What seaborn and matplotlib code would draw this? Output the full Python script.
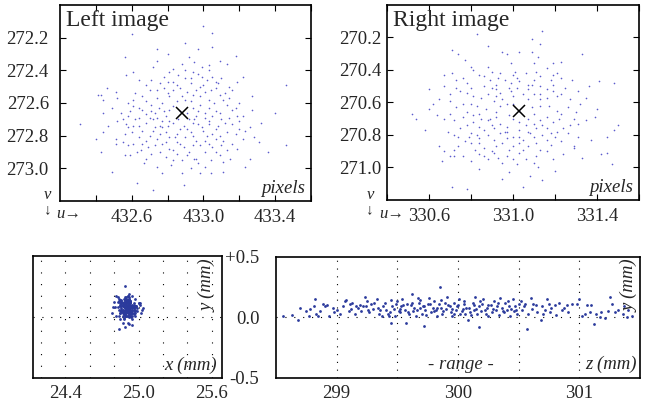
import matplotlib
matplotlib.use('Agg')
import matplotlib.pyplot as plt
import pandas as pd
import seaborn as sns

# Image-plane feature positions (u, v) in pixels
left_pts = [
    (433.00, 272.13), (433.05, 272.17), (432.60, 272.18), (432.90, 272.23), (433.05, 272.26),
    (432.97, 272.27), (432.74, 272.27), (432.56, 272.32), (433.18, 272.31), (432.92, 272.32),
    (432.80, 272.30), (432.74, 272.34), (432.95, 272.35), (433.09, 272.34), (433.13, 272.36),
    (433.03, 272.37), (432.88, 272.36), (432.99, 272.38), (432.83, 272.39), (432.72, 272.38),
    (433.03, 272.40), (432.81, 272.41), (432.90, 272.40), (432.94, 272.41), (432.61, 272.41),
    (433.22, 272.44), (432.57, 272.43), (432.71, 272.46), (432.90, 272.45), (432.99, 272.44),
    (433.02, 272.46), (433.05, 272.44), (432.83, 272.47), (432.76, 272.48), (432.64, 272.46),
    (432.78, 272.51), (432.83, 272.52), (432.87, 272.51), (432.93, 272.48), (432.98, 272.50),
    (433.08, 272.48), (433.14, 272.50), (433.19, 272.47), (433.46, 272.49), (432.46, 272.51),
    (432.43, 272.55), (432.41, 272.55), (432.51, 272.53), (432.44, 272.58), (432.52, 272.57),
    (432.61, 272.58), (432.66, 272.56), (432.74, 272.57), (432.81, 272.56), (432.88, 272.56),
    (432.94, 272.55), (433.01, 272.53), (433.09, 272.55), (433.14, 272.57), (433.27, 272.56),
    (432.61, 272.62), (432.59, 272.65), (432.64, 272.63), (432.71, 272.61), (432.75, 272.63),
    (432.78, 272.65), (432.83, 272.62), (432.94, 272.63), (432.98, 272.61), (433.03, 272.63),
    (433.07, 272.65), (433.13, 272.61), (433.16, 272.64), (433.27, 272.64), (433.40, 272.66),
    (432.44, 272.66), (432.58, 272.68), (432.64, 272.69), (432.68, 272.67), (432.74, 272.69),
    (432.79, 272.68), (432.96, 272.68), (433.01, 272.69), (433.05, 272.68), (433.10, 272.70),
    (433.14, 272.69), (433.22, 272.68), (432.52, 272.71), (432.57, 272.73), (432.64, 272.74),
    (432.68, 272.72), (432.76, 272.74), (432.83, 272.72), (432.89, 272.74), (432.94, 272.72),
    (432.99, 272.75), (433.03, 272.73), (433.08, 272.74), (433.16, 272.73), (433.20, 272.76),
    (433.26, 272.75), (432.31, 272.73), (432.58, 272.75), (432.66, 272.77), (432.72, 272.77),
    (432.79, 272.78), (432.87, 272.76), (432.93, 272.78), (433.00, 272.77), (433.05, 272.79),
    (433.13, 272.78), (433.23, 272.77), (433.28, 272.81), (432.51, 272.82), (432.55, 272.84),
    (432.64, 272.81), (432.68, 272.83), (432.74, 272.82), (432.77, 272.85), (432.85, 272.84),
    (432.90, 272.81), (432.96, 272.83), (433.01, 272.83), (433.07, 272.82), (433.16, 272.85),
    (432.51, 272.85), (432.44, 272.78), (432.61, 272.85), (432.69, 272.87), (432.81, 272.88),
    (432.89, 272.87), (432.98, 272.86), (433.05, 272.87), (433.13, 272.89), (433.46, 272.86),
    (432.43, 272.90), (432.63, 272.90), (432.76, 272.90), (432.85, 272.91), (432.92, 272.90),
    (433.01, 272.90), (433.09, 272.92), (433.26, 272.94), (433.36, 272.90), (432.56, 272.92),
    (432.59, 272.92), (432.68, 272.94), (432.79, 272.93), (432.88, 272.95), (432.96, 272.94),
    (433.04, 272.95), (433.11, 272.96), (433.23, 272.99), (432.74, 272.99), (432.77, 273.03),
    (432.88, 273.03), (432.98, 273.03), (433.04, 273.03), (433.11, 273.02), (432.49, 273.02),
    (432.63, 273.09), (432.72, 273.13), (432.89, 273.10), (432.95, 272.94), (432.83, 272.95),
    (432.72, 272.70), (432.90, 272.58), (432.87, 272.65), (432.81, 272.71), (432.98, 272.56),
    (433.03, 272.58), (432.74, 272.52), (432.68, 272.49), (432.96, 272.52), (433.07, 272.51),
    (433.16, 272.52), (432.85, 272.79), (432.92, 272.70), (432.77, 272.75), (433.01, 272.66),
    (432.71, 272.65), (433.20, 272.71), (432.60, 272.78), (433.11, 272.83), (432.81, 272.81),
    (432.78, 272.44), (432.86, 272.43), (432.93, 272.45), (433.00, 272.49), (433.10, 272.45),
    (432.70, 272.52), (432.80, 272.54), (432.91, 272.53), (433.04, 272.52), (433.12, 272.54),
    (432.58, 272.60), (432.68, 272.59), (432.77, 272.60), (432.85, 272.59), (432.93, 272.59),
    (433.06, 272.60), (433.11, 272.58), (433.20, 272.60), (432.49, 272.63), (432.54, 272.66),
    (432.66, 272.64), (432.73, 272.66), (432.81, 272.64), (432.91, 272.66), (432.97, 272.65),
    (433.09, 272.66), (433.19, 272.68), (432.62, 272.70), (432.70, 272.69), (432.77, 272.71),
    (432.86, 272.70), (432.95, 272.70), (433.03, 272.71), (433.12, 272.72), (432.47, 272.74),
    (432.61, 272.74), (432.73, 272.75), (432.80, 272.74), (432.91, 272.76), (432.97, 272.73),
    (433.07, 272.76), (433.18, 272.79), (432.56, 272.79), (432.70, 272.80), (432.76, 272.79),
    (432.84, 272.81), (432.94, 272.80), (433.02, 272.80), (433.09, 272.80), (433.22, 272.82),
    (432.58, 272.86), (432.66, 272.85), (432.73, 272.86), (432.79, 272.84), (432.87, 272.85),
    (432.94, 272.86), (433.03, 272.85), (433.10, 272.86), (433.19, 272.88), (432.65, 272.89),
    (432.83, 272.89), (432.91, 272.92), (433.07, 272.90), (432.71, 272.91), (432.97, 272.97),
    (432.82, 272.98), (433.01, 272.99), (432.67, 272.97), (433.15, 272.94), (432.93, 273.00),
    (432.80, 272.47), (432.97, 272.42), (432.85, 272.49), (433.07, 272.47), (432.62, 272.54),
    (433.18, 272.63), (432.55, 272.70), (433.32, 272.72), (432.40, 272.82), (433.31, 272.84),
]
left_mean = (432.88, 272.66)

right_pts = [
    (331.14, 270.16), (330.83, 270.18), (331.09, 270.21), (330.88, 270.25), (331.13, 270.24),
    (330.71, 270.28), (330.74, 270.30), (330.95, 270.29), (331.03, 270.29), (330.97, 270.30),
    (331.09, 270.29), (331.12, 270.32), (331.33, 270.30), (330.77, 270.34), (330.80, 270.38),
    (330.88, 270.38), (330.99, 270.36), (331.10, 270.36), (331.19, 270.36), (331.23, 270.35),
    (330.90, 270.41), (330.94, 270.42), (331.01, 270.41), (331.06, 270.42), (331.11, 270.41),
    (331.16, 270.39), (331.19, 270.43), (330.81, 270.40), (330.67, 270.43), (330.71, 270.42),
    (330.73, 270.46), (330.76, 270.45), (330.84, 270.43), (330.89, 270.46), (330.96, 270.46),
    (331.03, 270.47), (331.10, 270.46), (331.18, 270.46), (331.23, 270.45), (331.28, 270.46),
    (331.41, 270.47), (331.48, 270.48), (330.67, 270.50), (330.73, 270.51), (330.80, 270.51),
    (330.86, 270.50), (330.92, 270.49), (330.98, 270.51), (331.02, 270.51), (331.07, 270.52),
    (331.13, 270.50), (331.19, 270.53), (331.25, 270.51), (331.31, 270.53), (330.75, 270.53),
    (330.81, 270.56), (330.88, 270.55), (330.94, 270.54), (331.00, 270.56), (331.10, 270.55),
    (331.16, 270.57), (331.21, 270.56), (331.27, 270.58), (330.65, 270.58), (330.70, 270.59),
    (330.76, 270.61), (330.83, 270.62), (330.91, 270.59), (330.97, 270.61), (331.07, 270.58),
    (331.13, 270.62), (331.26, 270.63), (331.32, 270.61), (331.40, 270.64), (330.62, 270.61),
    (330.52, 270.67), (330.54, 270.70), (330.64, 270.68), (330.70, 270.67), (330.78, 270.66),
    (330.84, 270.67), (330.92, 270.66), (330.98, 270.68), (331.10, 270.67), (331.16, 270.69),
    (331.23, 270.67), (331.29, 270.70), (331.35, 270.71), (330.72, 270.71), (330.81, 270.72),
    (330.88, 270.71), (330.94, 270.73), (331.03, 270.72), (331.10, 270.73), (331.19, 270.72),
    (331.24, 270.76), (331.31, 270.73), (331.50, 270.74), (331.48, 270.77), (330.69, 270.78),
    (330.75, 270.76), (330.80, 270.79), (330.86, 270.77), (330.91, 270.76), (330.97, 270.78),
    (331.03, 270.77), (331.11, 270.76), (331.18, 270.79), (331.26, 270.79), (331.31, 270.81),
    (330.74, 270.81), (330.83, 270.80), (330.91, 270.83), (330.97, 270.82), (331.05, 270.83),
    (331.10, 270.81), (331.16, 270.83), (331.23, 270.84), (331.45, 270.81), (330.74, 270.87),
    (330.65, 270.87), (330.72, 270.89), (330.80, 270.85), (330.86, 270.88), (330.92, 270.87),
    (331.00, 270.87), (331.07, 270.87), (331.13, 270.89), (331.29, 270.87), (330.70, 270.93),
    (330.72, 270.93), (330.76, 270.93), (330.84, 270.92), (330.91, 270.91), (330.97, 270.93),
    (331.03, 270.91), (331.11, 270.93), (331.19, 270.95), (331.42, 270.92), (331.45, 270.91),
    (330.88, 270.95), (330.95, 270.97), (331.02, 270.98), (331.10, 270.97), (331.00, 270.95),
    (331.29, 270.88), (331.47, 270.98), (331.08, 271.05), (331.14, 271.08), (330.95, 271.07),
    (330.71, 271.12), (330.78, 271.13), (331.05, 271.12), (330.86, 270.93), (331.14, 270.74),
    (331.03, 270.65), (330.89, 270.70), (330.81, 270.68), (330.95, 270.58), (331.02, 270.45),
    (331.07, 270.49), (331.19, 270.49), (330.84, 270.82), (331.07, 270.78), (330.96, 270.78),
    (331.03, 270.81), (330.92, 270.52), (331.13, 270.58),
    (330.86, 270.44), (330.93, 270.45), (331.00, 270.43), (331.13, 270.44), (331.21, 270.42),
    (330.78, 270.48), (330.90, 270.51), (330.99, 270.48), (331.09, 270.49), (331.16, 270.52),
    (330.70, 270.55), (330.78, 270.54), (330.85, 270.57), (330.92, 270.56), (330.99, 270.53),
    (331.05, 270.55), (331.13, 270.55), (331.23, 270.55), (331.35, 270.57), (330.60, 270.64),
    (330.73, 270.63), (330.80, 270.61), (330.87, 270.64), (330.94, 270.62), (331.00, 270.61),
    (331.09, 270.63), (331.17, 270.62), (331.21, 270.65), (331.30, 270.66), (330.67, 270.70),
    (330.76, 270.69), (330.85, 270.70), (330.92, 270.69), (331.00, 270.70), (331.07, 270.70),
    (331.13, 270.71), (331.22, 270.70), (331.27, 270.74), (330.78, 270.74), (330.84, 270.75),
    (330.90, 270.74), (330.97, 270.75), (331.06, 270.74), (331.16, 270.76), (331.21, 270.78),
    (330.72, 270.80), (330.79, 270.81), (330.88, 270.80), (330.94, 270.79), (331.00, 270.81),
    (331.08, 270.79), (331.14, 270.80), (331.20, 270.81), (331.37, 270.83), (330.77, 270.84),
    (330.84, 270.85), (330.95, 270.85), (331.03, 270.85), (331.11, 270.85), (331.18, 270.86),
    (330.82, 270.89), (330.90, 270.90), (330.98, 270.89), (331.05, 270.89), (331.16, 270.90),
    (330.67, 270.90), (330.93, 270.94), (331.06, 270.95), (331.24, 270.92), (330.80, 270.96),
    (330.60, 270.52), (330.58, 270.77), (331.39, 270.69), (331.36, 270.50), (330.66, 270.96),
    (331.33, 270.94), (331.12, 271.00), (330.84, 271.01), (330.98, 271.03), (331.20, 271.02),
]
right_mean = (331.03, 270.65)

# Reconstructed points (z, y) in mm
zy_pts = [
    (298.56, 0.01), (298.63, 0.02), (298.68, -0.02), (298.70, 0.08), (298.75, 0.05),
    (298.77, 0.01), (298.78, 0.07), (298.81, 0.09), (298.82, 0.15), (298.83, 0.03),
    (298.85, 0.01), (298.86, 0.05), (298.89, 0.11), (298.90, 0.09), (298.92, 0.10),
    (298.94, 0.01), (298.97, 0.08), (298.98, 0.04), (299.00, 0.06), (299.03, 0.03),
    (299.05, 0.09), (299.07, 0.13), (299.08, 0.14), (299.11, 0.11), (299.12, 0.07),
    (299.13, 0.12), (299.15, 0.03), (299.16, 0.09), (299.18, 0.08), (299.19, 0.10),
    (299.20, 0.05), (299.22, 0.09), (299.23, 0.17), (299.24, 0.09), (299.26, 0.06),
    (299.27, 0.04), (299.28, 0.11), (299.30, 0.07), (299.31, 0.12), (299.33, 0.15),
    (299.34, 0.08), (299.35, 0.03), (299.37, 0.01), (299.38, 0.09), (299.41, 0.06),
    (299.42, 0.03), (299.43, 0.01), (299.45, 0.14), (299.45, -0.05), (299.46, 0.09),
    (299.48, 0.01), (299.49, 0.11), (299.50, 0.13), (299.51, 0.05), (299.52, 0.04),
    (299.53, 0.09), (299.54, 0.15), (299.56, 0.06), (299.57, -0.05), (299.58, 0.11),
    (299.60, 0.03), (299.61, 0.10), (299.62, 0.19), (299.63, 0.05), (299.64, 0.08),
    (299.65, 0.01), (299.67, 0.16), (299.68, 0.12), (299.69, 0.08), (299.70, 0.03),
    (299.71, 0.09), (299.72, -0.07), (299.73, 0.06), (299.75, 0.11), (299.76, 0.16),
    (299.78, 0.04), (299.79, 0.08), (299.80, 0.13), (299.82, 0.06), (299.83, 0.01),
    (299.84, 0.11), (299.85, 0.25), (299.86, 0.08), (299.87, 0.03), (299.89, 0.12),
    (299.90, 0.07), (299.91, 0.17), (299.93, 0.09), (299.94, 0.04), (299.95, 0.01),
    (299.97, 0.12), (299.98, 0.06), (299.99, 0.09), (300.01, 0.15), (300.02, 0.03),
    (300.04, 0.07), (300.05, 0.11), (300.06, 0.03), (300.08, -0.02), (300.09, 0.08),
    (300.10, 0.04), (300.12, 0.12), (300.13, 0.06), (300.14, 0.17), (300.16, 0.03),
    (300.17, -0.08), (300.17, 0.09), (300.19, 0.05), (300.20, 0.11), (300.21, 0.15),
    (300.23, 0.03), (300.24, 0.08), (300.25, 0.01), (300.27, 0.10), (300.28, 0.04),
    (300.30, 0.13), (300.31, 0.06), (300.32, 0.09), (300.34, 0.02), (300.35, 0.16),
    (300.36, 0.08), (300.38, 0.04), (300.39, 0.12), (300.40, 0.06), (300.42, 0.09),
    (300.43, 0.01), (300.45, 0.15), (300.46, 0.05), (300.47, 0.09), (300.49, 0.03),
    (300.50, 0.11), (300.53, 0.06), (300.54, 0.09), (300.55, 0.11), (300.57, -0.10),
    (300.58, 0.03), (300.60, 0.16), (300.61, 0.07), (300.64, 0.10), (300.65, 0.04),
    (300.68, -0.02), (300.69, 0.09), (300.70, 0.03), (300.72, 0.06), (300.73, 0.15),
    (300.75, 0.11), (300.76, 0.04), (300.77, 0.08), (300.80, 0.10), (300.81, 0.02),
    (300.83, 0.12), (300.86, 0.06), (300.87, 0.08), (300.90, 0.10), (300.91, 0.04),
    (300.94, 0.11), (300.98, 0.11), (301.00, 0.15), (301.02, 0.01), (301.05, 0.03),
    (301.06, 0.10), (301.09, 0.04), (301.10, 0.10), (301.12, -0.06), (301.14, 0.03),
    (301.17, 0.00), (301.18, 0.04), (301.21, -0.01), (301.24, 0.05), (301.25, 0.17),
    (301.27, 0.11), (301.29, 0.04), (301.32, 0.06), (301.36, 0.03), (301.37, 0.09),
    (301.39, 0.00), (301.40, 0.06), (301.43, 0.01),
    (299.52, 0.07), (299.55, 0.10), (299.59, 0.04), (299.62, 0.12), (299.66, 0.06),
    (299.69, 0.14), (299.72, 0.09), (299.74, 0.02), (299.77, 0.11), (299.80, 0.05),
    (299.83, 0.08), (299.86, 0.14), (299.88, 0.05), (299.92, 0.10), (299.95, 0.07),
    (299.97, 0.03), (300.00, 0.10), (300.03, 0.05), (300.05, 0.13), (300.07, 0.08),
    (300.11, 0.02), (300.13, 0.10), (300.15, 0.07), (300.18, 0.13), (300.22, 0.06),
    (300.25, 0.10), (300.29, 0.07), (300.33, 0.12), (300.37, 0.05), (300.41, 0.13),
    (299.36, 0.06), (299.40, 0.12), (299.44, 0.04), (299.47, 0.07), (300.44, 0.07),
    (300.48, 0.06), (300.52, 0.13), (299.10, 0.05), (299.25, 0.13), (300.62, 0.11),
]
# x (mm) of the same points, in the same order
x_mm = [
    24.93, 24.88, 24.95, 24.90, 24.86, 24.97, 24.92, 24.89, 24.84, 24.94,
    24.91, 24.99, 24.87, 24.93, 24.90, 24.82, 24.96, 24.88, 24.92, 24.85,
    24.95, 24.91, 24.89, 25.01, 24.86, 24.93, 24.90, 24.97, 24.83, 24.92,
    24.88, 24.94, 24.91, 24.87, 25.03, 24.90, 24.85, 24.96, 24.92, 24.89,
    24.81, 24.93, 24.90, 24.98, 24.87, 24.92, 24.94, 24.86, 24.91, 24.95,
    24.89, 25.00, 24.84, 24.92, 24.90, 24.96, 24.88, 24.93, 24.87, 24.91,
    24.94, 24.85, 24.92, 24.89, 24.97, 24.90, 24.83, 24.93, 24.91, 25.02,
    24.88, 24.95, 24.86, 24.92, 24.90, 24.94, 24.79, 24.91, 24.97, 24.87,
    24.93, 24.89, 24.95, 24.92, 24.86, 24.90, 24.95, 24.88, 24.93, 24.84,
    24.91, 24.96, 24.89, 24.92, 24.87, 24.99, 24.90, 24.94, 24.85, 24.92,
    24.88, 24.93, 24.91, 24.82, 24.95, 24.89, 24.92, 24.97, 24.86, 24.90,
    24.94, 24.88, 24.91, 25.01, 24.87, 24.93, 24.90, 24.85, 24.96, 24.92,
    24.89, 24.94, 24.80, 24.91, 24.88, 24.95, 24.92, 24.86, 24.98, 24.90,
    24.93, 24.87, 24.91, 24.96, 24.84, 24.92, 24.89, 25.04, 24.90, 24.94,
    24.88, 24.91, 24.85, 24.93, 24.97, 24.90, 24.87, 24.92, 24.95, 24.89,
    24.83, 24.91, 24.94, 24.88, 24.92, 25.00, 24.86, 24.90, 24.93, 24.89,
    24.96, 24.91, 24.87, 24.92, 24.78, 24.94, 24.90, 24.88, 24.95, 24.91,
    24.86, 24.93, 24.90, 24.97, 24.89, 24.92, 24.84, 24.91,
    24.90, 24.87, 24.93, 24.89, 24.95, 24.91, 24.86, 24.92, 24.88, 24.94,
    24.90, 24.85, 24.93, 24.91, 24.89, 24.96, 24.87, 24.92, 24.90, 24.94,
    24.88, 24.91, 24.93, 24.86, 24.92, 24.89, 24.95, 24.90, 24.87, 24.93,
    24.91, 24.88, 24.94, 24.90, 24.92, 24.86, 24.91, 24.89, 24.93, 24.90,
]

left_ticks = [432.6, 433.0, 433.4]
right_ticks = [330.6, 331.0, 331.4]
left_vticks = [272.2, 272.4, 272.6, 272.8, 273.0]
right_vticks = [270.2, 270.4, 270.6, 270.8, 271.0]
x_ticks = [24.4, 25.0, 25.6]
z_ticks = [299, 300, 301]
y_ticks = [0.5, 0.0, -0.5]
y_labels = ['+0.5', '0.0', '-0.5']

sns.set_style('white')
plt.rcParams['font.family'] = ['Liberation Serif', 'DejaVu Serif']

df_l = pd.DataFrame(left_pts, columns=['u', 'v'])
df_r = pd.DataFrame(right_pts, columns=['u', 'v'])
df_3d = pd.DataFrame(zy_pts, columns=['z', 'y'])
df_3d['x'] = x_mm[:len(df_3d)]

fig = plt.figure(figsize=(6.54, 4.05), dpi=100)
ax_l = fig.add_axes([0.0917, 0.5037, 0.3838, 0.484])
ax_r = fig.add_axes([0.5917, 0.5062, 0.3853, 0.4815])
ax_xy = fig.add_axes([0.05, 0.0674, 0.289, 0.3005])
ax_zy = fig.add_axes([0.422, 0.0674, 0.5566, 0.2988])

dot_top = '#4a4ac8'
dot_bot = '#2b3a9c'
fs = 13.5


def image_panel(ax, df, mean, xlim, ylim, xt, yt, title, ypad):
    sns.scatterplot(data=df, x='u', y='v', ax=ax, s=1.4, color=dot_top,
                    linewidth=0, alpha=0.9, legend=False)
    ax.plot([mean[0]], [mean[1]], marker='x', color='black', ms=9, mew=1.1)
    ax.set_xlim(*xlim)
    ax.set_ylim(*ylim)
    minor_x = [round(xt[0] - 0.2 + 0.2 * i, 1) for i in range(7)]
    ax.set_xticks(minor_x, minor=True)
    ax.set_xticks(xt)
    ax.set_xticklabels([f'{t:.1f}' for t in xt], fontsize=fs)
    ax.set_yticks(yt)
    ax.set_yticklabels([f'{t:.1f}' for t in yt], fontsize=fs)
    ax.tick_params(which='both', direction='in', length=4, width=0.8,
                   top=True, right=True, bottom=True, left=True, color='black')
    ax.tick_params(axis='x', pad=6)
    ax.tick_params(axis='y', pad=ypad)
    ax.set_xlabel('')
    ax.set_ylabel('')
    for sp in ax.spines.values():
        sp.set_color('black')
        sp.set_linewidth(1.2)
    ax.text(0.025, 0.975, title, transform=ax.transAxes, fontsize=17,
            ha='left', va='top')
    ax.text(0.977, 0.02, 'pixels', transform=ax.transAxes, fontsize=fs,
            style='italic', ha='right', va='bottom')


image_panel(ax_l, df_l, left_mean, (432.2, 433.6), (273.2, 272.0),
            left_ticks, left_vticks, 'Left image', 8)
image_panel(ax_r, df_r, right_mean, (330.4, 331.6), (271.2, 270.0),
            right_ticks, right_vticks, 'Right image', 4)

# v / u direction hints
for x0 in (0.0726, 0.5658):
    fig.text(x0, 1 - 195 / 405, 'v', fontsize=12, style='italic',
             ha='center', va='center')
    fig.text(x0, 1 - 210 / 405, '\u2193', fontsize=11, ha='center', va='center')
fig.text(56 / 654, 1 - 214 / 405, 'u\u2192', fontsize=12, style='italic',
         ha='left', va='center')
fig.text(379 / 654, 1 - 214 / 405, 'u\u2192', fontsize=12, style='italic',
         ha='left', va='center')

# x-y view
sns.scatterplot(data=df_3d, x='x', y='y', ax=ax_xy, s=4, color=dot_bot,
                linewidth=0, legend=False)
ax_xy.set_xlim(24.135, 25.68)
ax_xy.set_ylim(-0.5, 0.5)
for gx in [24.2, 24.4, 24.6, 24.8, 25.0, 25.2, 25.4, 25.6]:
    ax_xy.axvline(gx, color='black', lw=0.8, ls=(0, (1, 9.5)), zorder=0)
ax_xy.axhline(0, color='black', lw=0.8, ls=(0, (1, 7)), zorder=0)
ax_xy.set_xticks(x_ticks)
ax_xy.set_xticklabels([f'{t:.1f}' for t in x_ticks], fontsize=fs)
ax_xy.set_yticks([])
ax_xy.tick_params(axis='x', length=0, pad=5)
ax_xy.set_xlabel('')
ax_xy.set_ylabel('')
ax_xy.text(0.975, 0.03, 'x (mm)', transform=ax_xy.transAxes, fontsize=fs,
           style='italic', ha='right', va='bottom')
ax_xy.text(0.975, 0.975, 'y (mm)', transform=ax_xy.transAxes, fontsize=fs,
           style='italic', rotation=90, ha='right', va='top')

# z-y view
sns.scatterplot(data=df_3d, x='z', y='y', ax=ax_zy, s=4, color=dot_bot,
                linewidth=0, legend=False)
ax_zy.set_xlim(298.5, 301.5)
ax_zy.set_ylim(-0.5, 0.5)
for gz in [299, 299.5, 300, 300.5, 301]:
    ax_zy.axvline(gz, color='black', lw=0.8, ls=(0, (1, 6)), zorder=0)
ax_zy.axhline(0, color='black', lw=0.8, ls=(0, (1, 7)), zorder=0)
ax_zy.set_xticks(z_ticks)
ax_zy.set_xticklabels([str(t) for t in z_ticks], fontsize=fs)
ax_zy.set_yticks(y_ticks)
ax_zy.set_yticklabels(y_labels, fontsize=fs)
ax_zy.tick_params(length=0)
ax_zy.tick_params(axis='x', pad=5)
ax_zy.tick_params(axis='y', pad=12)
ax_zy.set_xlabel('')
ax_zy.set_ylabel('')
ax_zy.text(0.99, 0.04, 'z (mm)', transform=ax_zy.transAxes, fontsize=fs,
           style='italic', ha='right', va='bottom')
ax_zy.text(0.508, 0.04, '- range -', transform=ax_zy.transAxes, fontsize=fs,
           style='italic', ha='center', va='bottom')
ax_zy.text(0.995, 0.975, 'y (mm)', transform=ax_zy.transAxes, fontsize=fs,
           style='italic', rotation=90, ha='right', va='top')

for ax in (ax_xy, ax_zy):
    for sp in ax.spines.values():
        sp.set_color('black')
        sp.set_linewidth(1.2)

fig.savefig('out.png', dpi=100)
